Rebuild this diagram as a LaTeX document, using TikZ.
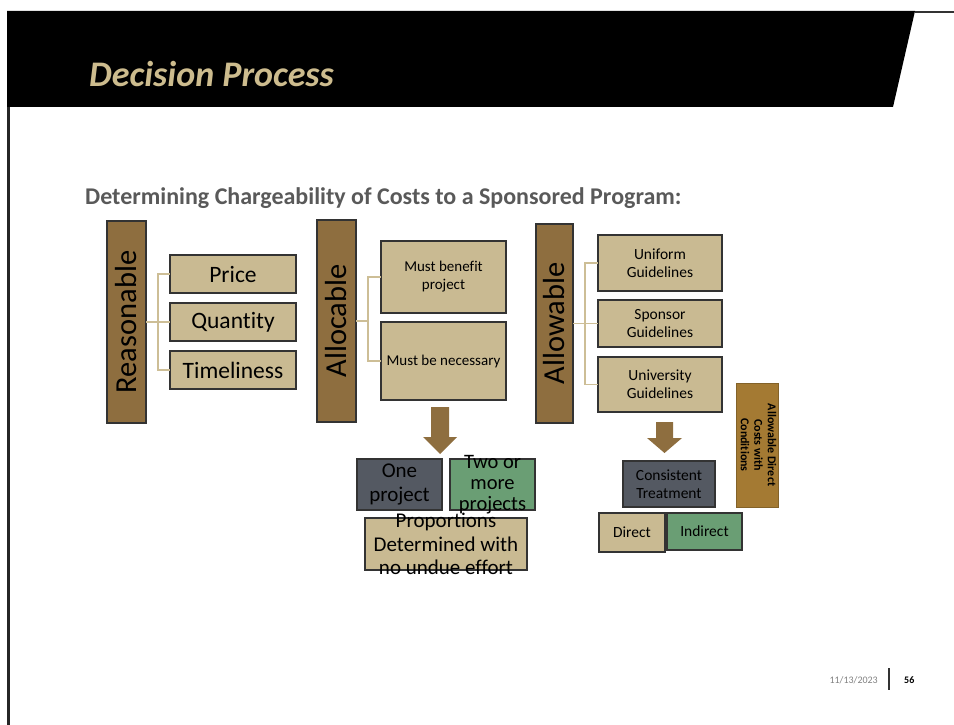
\documentclass[tikz,border=0pt]{standalone}
\usepackage{fontspec}
\usepackage{graphicx}
\setmainfont{Carlito}[Ligatures=NoCommon]
\definecolor{brn}{HTML}{8E6E3F}
\definecolor{tan}{HTML}{C9BA92}
\definecolor{slate}{HTML}{545962}
\definecolor{grn}{HTML}{6A9E74}
\definecolor{gold}{HTML}{A47A33}
\definecolor{titletan}{HTML}{CDBC8E}
\definecolor{subgray}{HTML}{595959}
\definecolor{conncol}{HTML}{CDBE96}
\definecolor{edge}{HTML}{333333}
\begin{document}
\begin{tikzpicture}[x=1pt,y=-1pt,
  box/.style={draw=edge,line width=1.1pt,inner sep=0pt,outer sep=0pt,align=center,text=black},
  vbox/.style={box,fill=brn},
  tbox/.style={box,fill=tan},
  sbox/.style={box,fill=slate},
  gbox/.style={box,fill=grn},
  conn/.style={draw=conncol,line width=1.3pt},
  blockarrow/.style={fill=brn,draw=none},
  big/.style={font=\fontsize{30.5}{30}\selectfont},
  mid/.style={font=\fontsize{23.5}{26}\selectfont},
  sm/.style={font=\fontsize{15.5}{18}\selectfont},
  md/.style={font=\fontsize{20.5}{21}\selectfont}
]
\useasboundingbox (0,0) rectangle (954,725);
% header
\fill[black] (7,11) -- (915,11) -- (893,107) -- (7,107) -- cycle;
\draw[edge,line width=1.5pt] (915,12) -- (954,12);
\draw[black!85,line width=2.5pt] (8.5,107) -- (8.5,725);
\node[anchor=base west,inner sep=0pt,text=titletan,font=\fontsize{36}{40}\selectfont\bfseries\itshape] (title) at (89,87) {Decision Process};
\node[anchor=base west,inner sep=0pt,text=subgray,font=\fontsize{24}{26}\selectfont\bfseries] (sub) at (85,204) {Determining Chargeability of Costs to a Sponsored Program:};

% left group
\node[vbox,minimum width=39pt,minimum height=202pt,big] (reas) at (126.5,322) {\rotatebox{90}{Reasonable}};
\node[tbox,minimum width=126pt,minimum height=38pt,mid] (price) at (233,274) {Price};
\node[tbox,minimum width=126pt,minimum height=38pt,mid] (qty) at (233,322) {Quantity};
\node[tbox,minimum width=126pt,minimum height=38pt,mid] (time) at (233,370) {Timeliness};
\draw[conn] (reas.east) -- (qty.west);
\draw[conn] (reas.east) ++(12,0) coordinate (lj) (lj) |- (price.west);
\draw[conn] (lj) |- (time.west);

% middle group
\node[vbox,minimum width=39pt,minimum height=202pt,big] (alloc) at (336.5,321) {\rotatebox{90}{Allocable}};
\node[tbox,minimum width=125pt,minimum height=72pt,font=\fontsize{15}{18}\selectfont] (benefit) at (443.5,277) {Must benefit\\project};
\node[tbox,minimum width=125pt,minimum height=78pt,font=\fontsize{15}{18}\selectfont] (need) at (443.5,361) {Must be necessary};
\draw[conn] (alloc.east) -- ++(12,0) coordinate (mj);
\draw[conn] (mj) |- (benefit.west);
\draw[conn] (mj) |- (need.west);
\fill[blockarrow] (431,407) -- (449,407) -- (449,437) -- (457,437) -- (440,454) -- (423,437) -- (431,437) -- cycle;
\node[sbox,minimum width=85pt,minimum height=51pt,font=\fontsize{21}{24}\selectfont] (one) at (399.5,484.5) {One\\project};
\node[gbox,minimum width=85pt,minimum height=51pt] (two) at (492.5,484.5) {};
\node[md,align=center,inner sep=0pt] (twot) at (two.center) {Two or\\more\\projects};
\node[tbox,minimum width=162pt,minimum height=52pt] (prop) at (446,544) {};
\node[font=\fontsize{21}{23.5}\selectfont,align=center,inner sep=0pt] (propt) at (prop.center) {Proportions\\Determined with\\no undue effort};

% right group
\node[vbox,minimum width=37pt,minimum height=199pt,big] (allow) at (554.5,323.5) {\rotatebox{90}{Allowable}};
\node[tbox,minimum width=124pt,minimum height=56pt,sm] (unif) at (660,263) {Uniform\\Guidelines};
\node[tbox,minimum width=124pt,minimum height=47pt,sm] (spons) at (660,323.5) {Sponsor\\Guidelines};
\node[tbox,minimum width=124pt,minimum height=55pt,sm] (univ) at (660,384.5) {University\\Guidelines};
\draw[conn] (allow.east) -- (spons.west);
\draw[conn] (allow.east) ++(12,0) coordinate (rj) (rj) |- (unif.west);
\draw[conn] (rj) |- (univ.west);
\fill[blockarrow] (656,422) -- (673,422) -- (673,438) -- (682,438) -- (664.5,453) -- (647,438) -- (656,438) -- cycle;
\node[sbox,minimum width=92pt,minimum height=46pt,sm] (cons) at (669,484) {Consistent\\Treatment};
\node[tbox,minimum width=66pt,minimum height=39pt,sm] (direct) at (632,532.5) {Direct};
\node[gbox,minimum width=75pt,minimum height=37pt,sm] (indirect) at (704.5,531.5) {Indirect};
\node[box,draw=gold!80!black,line width=0.6pt,fill=gold,minimum width=42pt,minimum height=124pt,font=\fontsize{12}{13.5}\selectfont\bfseries] (adc) at (757,445) {\rotatebox{-90}{\begin{tabular}{@{}c@{}}Allowable Direct\\Costs with\\Conditions\end{tabular}}};

% footer
\node[anchor=base east,inner sep=0pt,text=black!50,font=\fontsize{10}{12}\selectfont] (date) at (878,683) {11/13/2023};
\draw[black!80,line width=2pt] (889,668) -- (889,690);
\node[anchor=base west,inner sep=0pt,font=\fontsize{10}{12}\selectfont\bfseries] (pg) at (904,683) {56};
\end{tikzpicture}
\end{document}
